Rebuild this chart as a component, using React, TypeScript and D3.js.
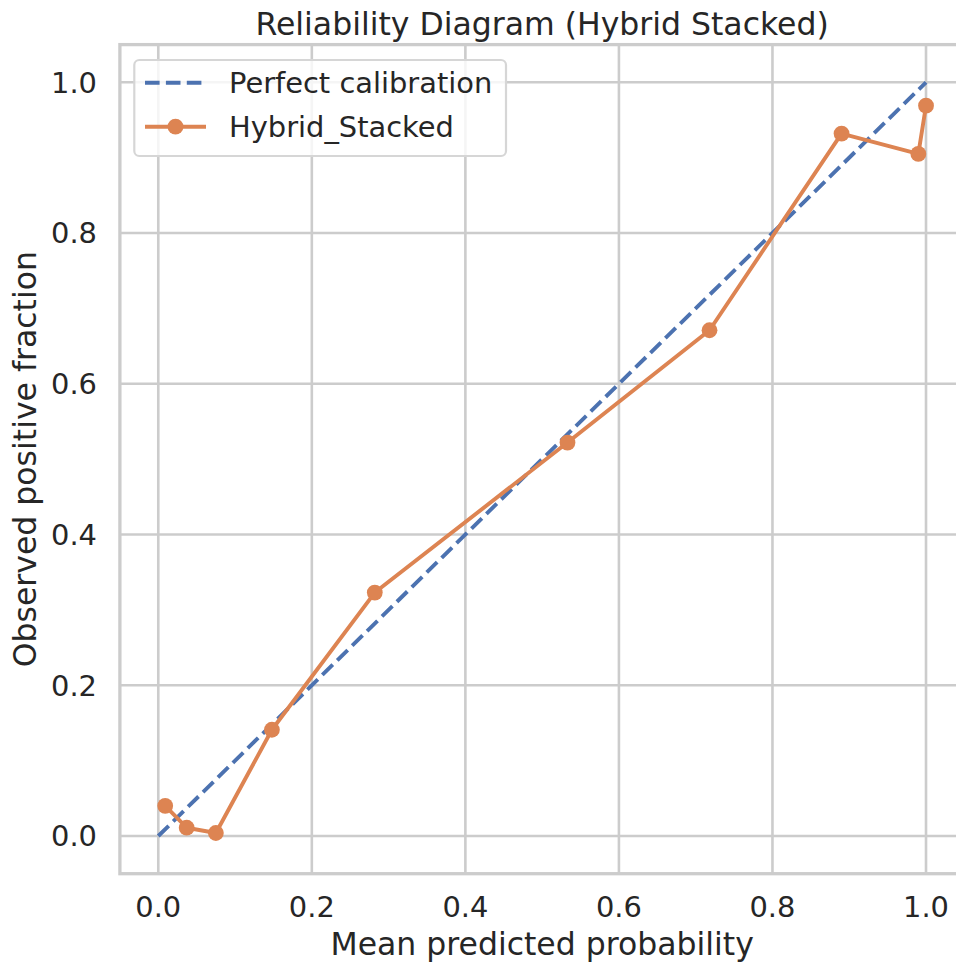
import React from "react";
import * as d3 from "d3";

const meanPredicted = [0.009, 0.037, 0.075, 0.148, 0.282, 0.533, 0.718, 0.890, 0.990, 1.0];
const observedFraction = [0.040, 0.011, 0.004, 0.141, 0.323, 0.522, 0.671, 0.932, 0.905, 0.969];
const perfectX = [0, 1];
const tickValues = [0, 0.2, 0.4, 0.6, 0.8, 1.0];
const tickLabels = ["0.0", "0.2", "0.4", "0.6", "0.8", "1.0"];
const legendLabels = ["Perfect calibration", "Hybrid_Stacked"];

const W = 956;
const H = 962;
const left = 119.9;
const right = 964.4;
const top = 44.6;
const bottom = 873.7;
const FONT = "'DejaVu Sans', sans-serif";
const TEXT = "#262626";
const GRID = "#cccccc";
const BLUE = "#4c72b0";
const ORANGE = "#dd8452";

export default function App() {
  const x = d3.scaleLinear().domain([-0.05, 1.05]).range([left, right]);
  const y = d3.scaleLinear().domain([-0.05, 1.05]).range([bottom, top]);
  const line = d3
    .line<number>()
    .x((_, i) => x(meanPredicted[i]))
    .y((d) => y(d));
  const diag = d3
    .line<number>()
    .x((d) => x(d))
    .y((d) => y(d));

  return (
    <div style={{ position: "absolute", left: 0, top: 0 }}>
      <svg width={W} height={H} style={{ display: "block", background: "#fff" }}>
        <defs>
          <clipPath id="plotclip">
            <rect x={left} y={top} width={right - left} height={bottom - top} />
          </clipPath>
        </defs>
        <rect x={0} y={0} width={W} height={H} fill="#fff" />
        {/* grid */}
        {tickValues.map((t, i) => (
          <g key={"g" + i}>
            <line x1={x(t)} x2={x(t)} y1={top} y2={bottom} stroke={GRID} strokeWidth={2.6} />
            <line x1={left} x2={right} y1={y(t)} y2={y(t)} stroke={GRID} strokeWidth={2.6} />
          </g>
        ))}
        {/* spines */}
        <rect x={left} y={top} width={right - left} height={bottom - top} fill="none" stroke={GRID} strokeWidth={3.3} />
        {/* tick labels */}
        {tickValues.map((t, i) => (
          <text key={"xt" + i} x={x(t)} y={917} textAnchor="middle" fontFamily={FONT} fontSize={28.9} fill={TEXT}>
            {tickLabels[i]}
          </text>
        ))}
        {tickValues.map((t, i) => (
          <text key={"yt" + i} x={97} y={y(t)} dy="0.36em" textAnchor="end" fontFamily={FONT} fontSize={28.9} fill={TEXT}>
            {tickLabels[i]}
          </text>
        ))}
        {/* data */}
        <g clipPath="url(#plotclip)">
          <path d={diag(perfectX) || ""} fill="none" stroke={BLUE} strokeWidth={3.9} strokeDasharray="14.6 6.3" />
          <path d={line(observedFraction) || ""} fill="none" stroke={ORANGE} strokeWidth={3.9} strokeLinejoin="round" />
          {observedFraction.map((v, i) => (
            <circle key={"c" + i} cx={x(meanPredicted[i])} cy={y(v)} r={7.9} fill={ORANGE} />
          ))}
        </g>
        {/* legend */}
        <g>
          <rect x={134.3} y={60} width={371.7} height={96} rx={5} ry={5} fill="#fff" fillOpacity={0.8} stroke="#d6d6d6" strokeWidth={2.2} />
          <line x1={145} x2={206} y1={82.7} y2={82.7} stroke={BLUE} strokeWidth={3.9} strokeDasharray="14.6 6.3" />
          <text x={229} y={82.7} dy="0.36em" fontFamily={FONT} fontSize={28.9} fill={TEXT}>
            {legendLabels[0]}
          </text>
          <line x1={145} x2={206} y1={126.7} y2={126.7} stroke={ORANGE} strokeWidth={3.9} />
          <circle cx={175.5} cy={126.7} r={7.9} fill={ORANGE} />
          <text x={229} y={126.7} dy="0.36em" fontFamily={FONT} fontSize={28.9} fill={TEXT}>
            {legendLabels[1]}
          </text>
        </g>
        {/* labels */}
        <text x={(left + right) / 2} y={35} textAnchor="middle" fontFamily={FONT} fontSize={31.5} fill={TEXT}>
          Reliability Diagram (Hybrid Stacked)
        </text>
        <text x={(left + right) / 2} y={955} textAnchor="middle" fontFamily={FONT} fontSize={31.5} fill={TEXT}>
          Mean predicted probability
        </text>
        <text
          transform={`translate(36,${(top + bottom) / 2}) rotate(-90)`}
          textAnchor="middle"
          fontFamily={FONT}
          fontSize={31.5}
          fill={TEXT}
        >
          Observed positive fraction
        </text>
      </svg>
    </div>
  );
}
